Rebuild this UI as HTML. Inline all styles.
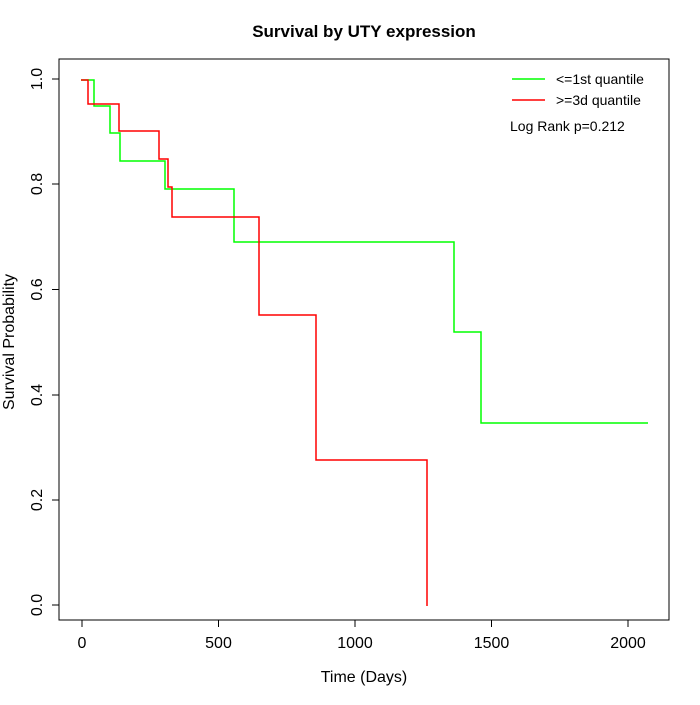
<!DOCTYPE html>
<html><head><style>body{margin:0;background:#fff}</style></head><body>
<svg width="700" height="700" xmlns="http://www.w3.org/2000/svg" font-family="Liberation Sans, sans-serif">
<rect width="700" height="700" fill="#fff"/>
<text x="364" y="37" font-size="17" font-weight="bold" text-anchor="middle">Survival by UTY expression</text>
<rect x="59" y="59" width="610" height="561" fill="none" stroke="#000" stroke-width="1"/>
<g stroke="#000" stroke-width="1">
<line x1="82" y1="620" x2="628" y2="620"/>
<line x1="82" y1="620" x2="82" y2="627"/><line x1="218.5" y1="620" x2="218.5" y2="627"/><line x1="355" y1="620" x2="355" y2="627"/><line x1="491.5" y1="620" x2="491.5" y2="627"/><line x1="628" y1="620" x2="628" y2="627"/>
<line x1="59" y1="79" x2="59" y2="605"/>
<line x1="52" y1="79" x2="59" y2="79"/><line x1="52" y1="184" x2="59" y2="184"/><line x1="52" y1="289.5" x2="59" y2="289.5"/><line x1="52" y1="395" x2="59" y2="395"/><line x1="52" y1="500" x2="59" y2="500"/><line x1="52" y1="605" x2="59" y2="605"/>
</g>
<g font-size="16" text-anchor="middle">
<text x="82" y="648">0</text><text x="218.5" y="648">500</text><text x="355" y="648">1000</text><text x="491.5" y="648">1500</text><text x="628" y="648">2000</text>
<text x="364" y="682">Time (Days)</text>
</g>
<g font-size="16" text-anchor="middle">
<text transform="translate(42,79) rotate(-90)">1.0</text>
<text transform="translate(42,184) rotate(-90)">0.8</text>
<text transform="translate(42,289.5) rotate(-90)">0.6</text>
<text transform="translate(42,395) rotate(-90)">0.4</text>
<text transform="translate(42,500) rotate(-90)">0.2</text>
<text transform="translate(42,605) rotate(-90)">0.0</text>
<text transform="translate(14,342) rotate(-90)">Survival Probability</text>
</g>
<polyline fill="none" stroke="#00ff00" stroke-width="1.5" points="81,80 94,80 94,106 110,106 110,133 120,133 120,161 165,161 165,189 234,189 234,242 454,242 454,332 481,332 481,423 648,423"/>
<polyline fill="none" stroke="#ff0000" stroke-width="1.5" points="81,80 88,80 88,104 119,104 119,131 159,131 159,159 168,159 168,187 172,187 172,217 259,217 259,315 316,315 316,460 427,460 427,606"/>
<line x1="512" y1="79" x2="545" y2="79" stroke="#00ff00" stroke-width="1.5"/>
<line x1="512" y1="100" x2="545" y2="100" stroke="#ff0000" stroke-width="1.5"/>
<g font-size="14">
<text x="556" y="84">&lt;=1st quantile</text>
<text x="556" y="105">&gt;=3d quantile</text>
<text x="510" y="131">Log Rank p=0.212</text>
</g>
</svg>
</body></html>
